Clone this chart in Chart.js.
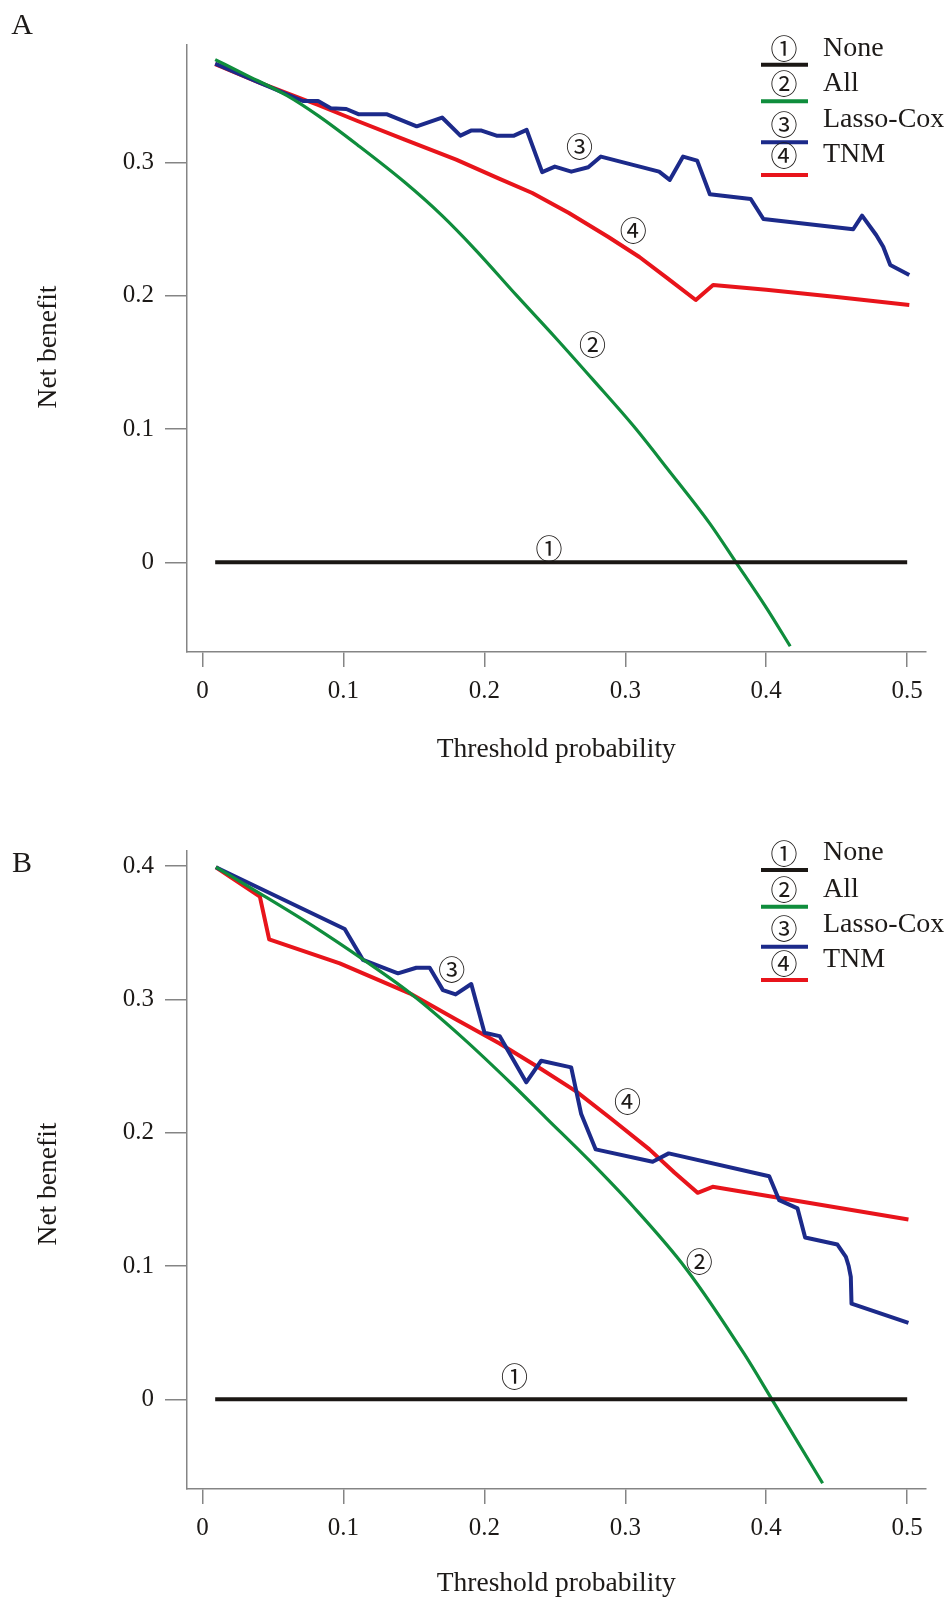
<!DOCTYPE html>
<html><head><meta charset="utf-8">
<script src="https://cdn.jsdelivr.net/npm/chart.js@4.4.1/dist/chart.umd.min.js"></script>
<style>
html,body{margin:0;padding:0;background:#fff;}
#wrap{position:relative;width:951px;height:1600px;background:#fff;}
canvas{position:absolute;left:0;}
#cA{top:0;} #cB{top:800px;}
</style></head><body>
<div id="wrap"><canvas id="cA" width="951" height="800"></canvas><canvas id="cB" width="951" height="800"></canvas></div>
<script>
// ---------- data ----------
const seriesNames = ['None', 'All', 'Lasso-Cox', 'TNM'];
const seriesMarks = ['①', '②', '③', '④'];
const xTickValues = [0, 0.1, 0.2, 0.3, 0.4, 0.5];
const xTickLabels = ['0', '0.1', '0.2', '0.3', '0.4', '0.5'];
const yTickValuesA = [0, 0.1, 0.2, 0.3];
const yTickLabelsA = ['0', '0.1', '0.2', '0.3'];
const yTickValuesB = [0, 0.1, 0.2, 0.3, 0.4];
const yTickLabelsB = ['0', '0.1', '0.2', '0.3', '0.4'];

// Panel A
const aNoneX = [0.009, 0.5];
const aNoneY = [0, 0];
const aAllX = [0.009, 0.03, 0.06, 0.082, 0.11, 0.1435, 0.17, 0.194, 0.223, 0.25, 0.277, 0.306, 0.33, 0.36, 0.3785, 0.40, 0.417];
const aAllY = [0.377, 0.366, 0.350, 0.335, 0.313, 0.285, 0.260, 0.234, 0.200, 0.169, 0.137, 0.102, 0.070, 0.029, 0.0, -0.034, -0.063];
const aLassoX = [0.009, 0.04, 0.0712, 0.082, 0.091, 0.102, 0.111, 0.131, 0.152, 0.170, 0.183, 0.1905, 0.198, 0.2086, 0.221, 0.230, 0.241, 0.250, 0.2617, 0.2737, 0.2827, 0.324, 0.3315, 0.341, 0.351, 0.360, 0.389, 0.398, 0.4617, 0.468, 0.478, 0.483, 0.488, 0.5015];
const aLassoY = [0.374, 0.360, 0.346, 0.346, 0.3406, 0.340, 0.336, 0.336, 0.327, 0.3336, 0.320, 0.3238, 0.3238, 0.320, 0.320, 0.3243, 0.2926, 0.2968, 0.293, 0.2963, 0.3043, 0.293, 0.2868, 0.3043, 0.3013, 0.276, 0.2725, 0.2575, 0.2498, 0.260, 0.2455, 0.2367, 0.223, 0.2155];
const aTnmX = [0.009, 0.04, 0.082, 0.11, 0.1435, 0.18, 0.21, 0.234, 0.26, 0.288, 0.31, 0.33, 0.35, 0.3623, 0.40, 0.45, 0.5015];
const aTnmY = [0.3736, 0.360, 0.343, 0.331, 0.317, 0.302, 0.288, 0.277, 0.262, 0.244, 0.229, 0.213, 0.1967, 0.208, 0.2045, 0.199, 0.193];
const aMarkX = [0.2459, 0.2767, 0.2675, 0.3057];
const aMarkY = [0.0105, 0.1629, 0.3116, 0.2485];

// Panel B
const bNoneX = [0.009, 0.5];
const bNoneY = [0, 0];
const bAllX = [0.0095, 0.04, 0.0785, 0.1139, 0.147, 0.1848, 0.22, 0.2439, 0.2746, 0.3052, 0.3431, 0.3844, 0.404, 0.42, 0.44];
const bAllY = [0.3992, 0.380, 0.355, 0.330, 0.305, 0.271, 0.236, 0.211, 0.179, 0.145, 0.098, 0.034, 0.0, -0.028, -0.063];
const bLassoX = [0.0095, 0.1009, 0.1139, 0.1387, 0.1517, 0.1612, 0.1706, 0.1796, 0.1907, 0.2001, 0.2108, 0.2297, 0.2403, 0.2616, 0.2687, 0.2790, 0.3194, 0.3308, 0.4021, 0.4092, 0.4222, 0.4276, 0.4505, 0.4565, 0.4585, 0.46, 0.4605, 0.5009];
const bLassoY = [0.3992, 0.3529, 0.3296, 0.3196, 0.3238, 0.3238, 0.307, 0.3038, 0.3116, 0.275, 0.2725, 0.2378, 0.254, 0.249, 0.214, 0.1875, 0.1782, 0.1845, 0.1674, 0.1494, 0.1432, 0.1214, 0.1161, 0.1068, 0.100, 0.0918, 0.0718, 0.0573];
const bTnmX = [0.0095, 0.0407, 0.0473, 0.0974, 0.147, 0.18, 0.2108, 0.24, 0.2651, 0.29, 0.3171, 0.335, 0.3513, 0.362, 0.5009];
const bTnmY = [0.3992, 0.3771, 0.3451, 0.3271, 0.3046, 0.285, 0.267, 0.248, 0.231, 0.2105, 0.1875, 0.170, 0.1549, 0.1594, 0.1349];
const bMarkX = [0.2214, 0.3525, 0.1768, 0.3015];
const bMarkY = [0.0173, 0.1029, 0.3221, 0.223];

// ---------- styles ----------
const COLORS = ['#1b1714', '#0f8d3c', '#1c2a8a', '#e8141b'];
const WIDTHS = [4, 3.2, 4, 4];
const TEXT = '#1d1a18';
const AXIS = '#858585';
const SERIF = '"Liberation Serif", "Times New Roman", serif';
const MARK_FONT = '27px "Noto Sans CJK SC", "DejaVu Sans", sans-serif';
const LEG_FONT = '28px ' + SERIF;
const TITLE_FONT = '27.5px ' + SERIF;
Chart.defaults.font.family = SERIF;

const overlayPlugin = {
  id: 'overlay',
  afterDatasetsDraw(chart, args, o) {
    const ctx = chart.ctx;
    const xs = chart.scales.x, ys = chart.scales.y;
    ctx.save();
    ctx.fillStyle = TEXT;
    ctx.textAlign = 'center';
    ctx.textBaseline = 'middle';
    ctx.font = '30px ' + SERIF;
    ctx.fillText(o.letter, o.letterX, o.letterY);
    // y-axis title
    ctx.save();
    ctx.translate(o.yTitleX, o.yTitleY);
    ctx.rotate(-Math.PI / 2);
    ctx.font = TITLE_FONT;
    ctx.fillText('Net benefit', 0, 0);
    ctx.restore();
    // curve marks
    ctx.font = MARK_FONT;
    o.markX.forEach((mx, i) => {
      ctx.fillText(seriesMarks[i], xs.getPixelForValue(mx), ys.getPixelForValue(o.markY[i]));
    });
    // legend
    o.legend.forEach((row, i) => {
      ctx.fillStyle = TEXT;
      ctx.font = MARK_FONT;
      ctx.textAlign = 'center';
      ctx.fillText(seriesMarks[i], o.legMarkX, row[0]);
      ctx.font = LEG_FONT;
      ctx.textAlign = 'left';
      ctx.fillText(seriesNames[i], o.legTextX, row[1]);
      ctx.strokeStyle = COLORS[i];
      ctx.lineWidth = 4;
      ctx.beginPath();
      ctx.moveTo(o.legX0, row[2]);
      ctx.lineTo(o.legX1, row[2]);
      ctx.stroke();
    });
    ctx.restore();
  }
};

function pts(xs, ys) { return xs.map((x, i) => ({ x: x, y: ys[i] })); }

function buildChart(id, P) {
  const series = [[P.noneX, P.noneY], [P.allX, P.allY], [P.lassoX, P.lassoY], [P.tnmX, P.tnmY]];
  const datasets = series.map((s, i) => ({
    label: seriesNames[i],
    data: pts(s[0], s[1]),
    borderColor: COLORS[i],
    backgroundColor: COLORS[i],
    borderWidth: WIDTHS[i],
    pointRadius: 0,
    fill: false,
    tension: 0,
    cubicInterpolationMode: i === 1 ? 'monotone' : 'default',
    borderJoinStyle: 'round',
    clip: false
  }));
  return new Chart(document.getElementById(id), {
    type: 'line',
    data: { datasets: datasets },
    plugins: [overlayPlugin],
    options: {
      responsive: false,
      animation: false,
      devicePixelRatio: 1,
      layout: { padding: { left: 0, right: 25.5, top: P.padTop, bottom: 0 } },
      plugins: {
        legend: { display: false },
        tooltip: { enabled: false },
        overlay: P.overlay
      },
      scales: {
        x: {
          type: 'linear',
          min: -0.011, max: 0.513,
          afterBuildTicks: s => { s.ticks = xTickValues.map(v => ({ value: v })); },
          afterFit: s => { s.height = P.xH; },
          border: { display: true, color: AXIS, width: 1.5 },
          grid: { drawOnChartArea: false, drawTicks: true, tickLength: 15, color: AXIS, tickColor: AXIS, lineWidth: 1.5 },
          ticks: { color: TEXT, font: { size: 25 }, padding: 9, maxRotation: 0, autoSkip: false,
                   callback: v => xTickLabels[xTickValues.indexOf(v)] },
          title: { display: true, text: 'Threshold probability', color: TEXT, font: { size: 27.5 },
                   padding: { top: 0, bottom: P.xTitlePad } }
        },
        y: {
          min: P.yMin, max: P.yMax,
          afterBuildTicks: s => { s.ticks = P.yTicks.map(v => ({ value: v })); },
          afterFit: s => { s.width = 187; },
          border: { display: true, color: AXIS, width: 1.5 },
          grid: { drawOnChartArea: false, drawTicks: true, tickLength: 22, color: AXIS, tickColor: AXIS, lineWidth: 1.5 },
          ticks: { color: TEXT, font: { size: 25 }, padding: 11, autoSkip: false,
                   callback: v => P.yLabels[P.yTicks.indexOf(v)] },
          title: { display: false }
        }
      }
    }
  });
}

buildChart('cA', {
  noneX: aNoneX, noneY: aNoneY, allX: aAllX, allY: aAllY, lassoX: aLassoX, lassoY: aLassoY, tnmX: aTnmX, tnmY: aTnmY,
  yMin: -0.0673, yMax: 0.388, yTicks: yTickValuesA, yLabels: yTickLabelsA,
  padTop: 45, xH: 148, xTitlePad: 33.5,
  overlay: {
    letter: 'A', letterX: 22, letterY: 26, yTitleX: 49, yTitleY: 347,
    markX: aMarkX, markY: aMarkY,
    legMarkX: 784, legTextX: 823, legX0: 761, legX1: 808,
    legend: [[48.3, 48.3, 64.7], [83.3, 83.3, 101.3], [125, 120, 142.3], [156, 155, 175]]
  }
});

buildChart('cB', {
  noneX: bNoneX, noneY: bNoneY, allX: bAllX, allY: bAllY, lassoX: bLassoX, lassoY: bLassoY, tnmX: bTnmX, tnmY: bTnmY,
  yMin: -0.0673, yMax: 0.4116, yTicks: yTickValuesB, yLabels: yTickLabelsB,
  padTop: 50.7, xH: 111, xTitlePad: 0,
  overlay: {
    letter: 'B', letterX: 22, letterY: 64, yTitleX: 49, yTitleY: 384,
    markX: bMarkX, markY: bMarkY,
    legMarkX: 784, legTextX: 823, legX0: 761, legX1: 808,
    legend: [[53.3, 52.7, 70], [90, 90, 106.7], [128.3, 125, 146.7], [163.3, 160, 180]]
  }
});
</script>
</body></html>
